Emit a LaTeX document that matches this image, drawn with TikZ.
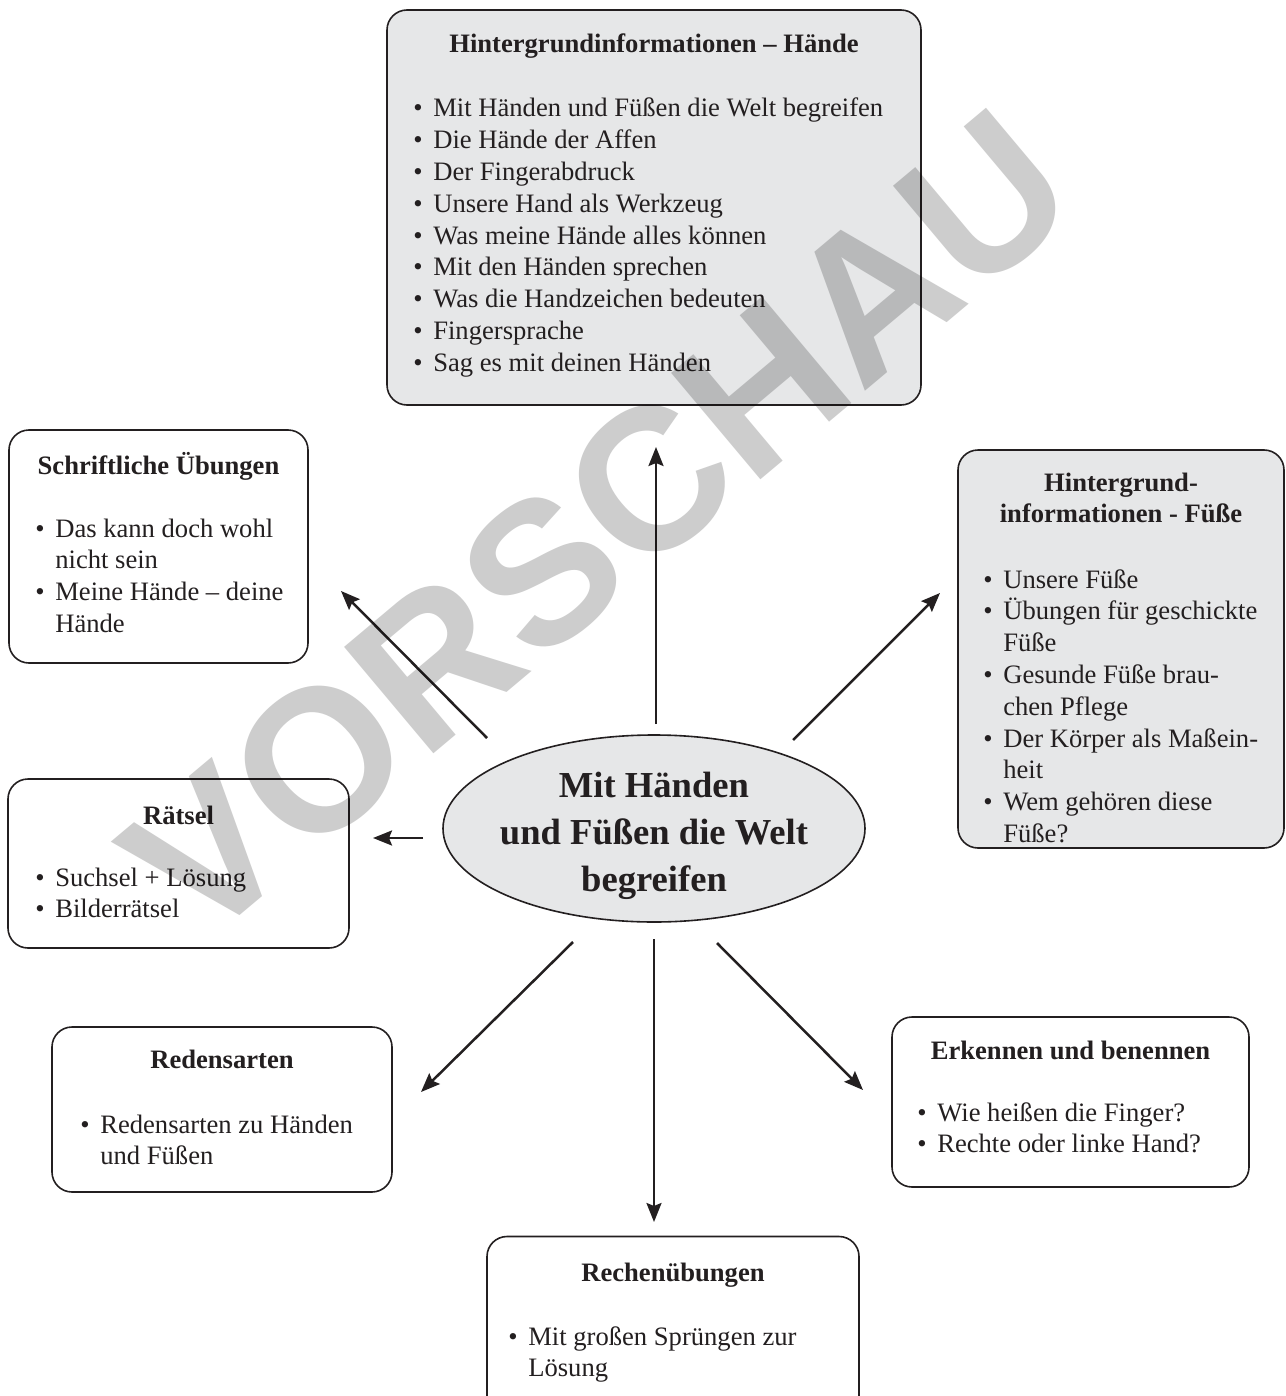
\documentclass[tikz,border=0pt]{standalone}
\usepackage{fontspec}
\setmainfont{Liberation Serif}
\newfontfamily\wmfont{Liberation Sans}
\usetikzlibrary{arrows.meta,shapes.geometric}
\definecolor{ink}{HTML}{231F20}
\definecolor{boxgray}{HTML}{E6E7E8}
\definecolor{wmgray}{HTML}{CDCDCD}
\newcommand{\bodyfs}{\fontsize{13.3pt}{15.9pt}\selectfont}
\newcommand{\bigfs}{\fontsize{18.3pt}{23.5pt}\selectfont\bfseries}
\newcommand{\bl}{\textbullet}
\begin{document}
\begin{tikzpicture}[x=0.5pt,y=-0.5pt,
  box/.style={draw=ink, line width=0.8pt, rounded corners=10pt, inner sep=0pt, fill=white},
  graybox/.style={box, fill=boxgray},
  ttl/.style={anchor=base, inner sep=0pt, text=ink, font=\bodyfs\bfseries},
  lst/.style={anchor=base west, inner sep=0pt, text=ink, font=\bodyfs},
  arr/.style={-{Stealth[length=9.5pt,width=7.5pt,inset=1.5pt]}, line width=1.25pt, draw=ink}]
\clip (0,0) rectangle (1285,1396);
\fill[white] (0,0) rectangle (1285,1396);

% top box
\node[graybox, minimum width=267pt, minimum height=197.5pt] (hb) at (654,207.5) {};
\node[ttl] (hbt) at (654,53) {Hintergrundinformationen – Hände};
\node[lst] (hbl) at (413,117) {\begin{tabular}[t]{@{}l@{\hspace{5.3pt}}l@{}}
\bl & Mit Händen und Füßen die Welt begreifen\\
\bl & Die Hände der Affen\\
\bl & Der Fingerabdruck\\
\bl & Unsere Hand als Werkzeug\\
\bl & Was meine Hände alles können\\
\bl & Mit den Händen sprechen\\
\bl & Was die Handzeichen bedeuten\\
\bl & Fingersprache\\
\bl & Sag es mit deinen Händen
\end{tabular}};

% Schriftliche Übungen
\node[box, minimum width=149.5pt, minimum height=116.5pt] (su) at (158.5,546.5) {};
\node[ttl] (sut) at (158.5,474) {Schriftliche Übungen};
\node[lst] (sul) at (35,537) {\begin{tabular}[t]{@{}l@{\hspace{5.3pt}}l@{}}
\bl & Das kann doch wohl\\
 & nicht sein\\
\bl & Meine Hände – deine\\
 & Hände
\end{tabular}};

% Füße
\node[graybox, minimum width=163pt, minimum height=199pt] (hf) at (1121,649) {};
\node[ttl] (hft) at (1121,491) {\begin{tabular}[t]{@{}c@{}}Hintergrund-\\informationen - Füße\end{tabular}};
\node[lst] (hfl) at (983,588) {\begin{tabular}[t]{@{}l@{\hspace{5.3pt}}l@{}}
\bl & Unsere Füße\\
\bl & Übungen für geschickte\\
 & Füße\\
\bl & Gesunde Füße brau-\\
 & chen Pflege\\
\bl & Der Körper als Maßein-\\
 & heit\\
\bl & Wem gehören diese\\
 & Füße?
\end{tabular}};

% Rätsel
\node[box, minimum width=170.5pt, minimum height=84.5pt] (rt) at (178.5,863.5) {};
\node[ttl] (rtt) at (178.5,824) {Rätsel};
\node[lst] (rtl) at (35,886) {\begin{tabular}[t]{@{}l@{\hspace{5.3pt}}l@{}}
\bl & Suchsel + Lösung\\
\bl & Bilderrätsel
\end{tabular}};

% Redensarten
\node[box, minimum width=170pt, minimum height=82.5pt] (rd) at (222,1109.5) {};
\node[ttl] (rdt) at (222,1068) {Redensarten};
\node[lst] (rdl) at (80,1133) {\begin{tabular}[t]{@{}l@{\hspace{5.3pt}}l@{}}
\bl & Redensarten zu Händen\\
 & und Füßen
\end{tabular}};

% Erkennen und benennen
\node[box, minimum width=178.5pt, minimum height=85pt] (eb) at (1070.5,1102) {};
\node[ttl] (ebt) at (1070.5,1059) {Erkennen und benennen};
\node[lst] (ebl) at (917,1121) {\begin{tabular}[t]{@{}l@{\hspace{5.3pt}}l@{}}
\bl & Wie heißen die Finger?\\
\bl & Rechte oder linke Hand?
\end{tabular}};

% Rechenübungen
\node[box, minimum width=186pt, minimum height=91.5pt] (ru) at (673,1328) {};
\node[ttl] (rut) at (673,1281) {Rechenübungen};
\node[lst] (rul) at (508,1345) {\begin{tabular}[t]{@{}l@{\hspace{5.3pt}}l@{}}
\bl & Mit großen Sprüngen zur\\
 & Lösung
\end{tabular}};

% centre
\node[ellipse, draw=ink, fill=boxgray, line width=0.8pt, minimum width=211pt, minimum height=93.5pt, inner sep=0pt] (c) at (654,828.5) {};
\node[anchor=base, inner sep=0pt, text=ink, font=\bigfs] (ct) at (654,797) {\begin{tabular}[t]{@{}c@{}}Mit Händen\\und Füßen die Welt\\begreifen\end{tabular}};

% arrows
\coordinate (uS) at (656,724);   \coordinate (uE) at (656,447);
\coordinate (ulS) at (487,738);  \coordinate (ulE) at (341,591);
\coordinate (urS) at (793,740);  \coordinate (urE) at (940,593);
\coordinate (lS) at (423,838);   \coordinate (lE) at (373,838);
\coordinate (dlS) at (573,942);  \coordinate (dlE) at (421,1092);
\coordinate (dS) at (654,939);   \coordinate (dE) at (654,1222);
\coordinate (drS) at (717,943);  \coordinate (drE) at (863,1090);
\draw[arr] (uS) -- (uE);
\draw[arr] (ulS) -- (ulE);
\draw[arr] (urS) -- (urE);
\draw[arr] (lS) -- (lE);
\draw[arr] (dlS) -- (dlE);
\draw[arr] (dS) -- (dE);
\draw[arr] (drS) -- (drE);

% watermark
\begin{scope}[blend mode=multiply]
\node[rotate=40, text=wmgray, inner sep=0pt, font=\wmfont\bfseries\fontsize{101pt}{104pt}\selectfont] (wm) at (598,525) {VORSCHAU};
\end{scope}
\end{tikzpicture}
\end{document}
